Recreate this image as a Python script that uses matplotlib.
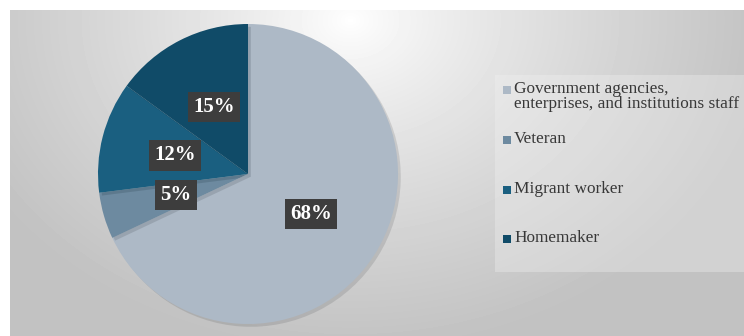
import matplotlib.pyplot as plt
import matplotlib.patheffects as pe
from matplotlib.patches import Rectangle
import numpy as np

labels = ['Government agencies,\nenterprises, and institutions staff', 'Veteran',
          'Migrant worker', 'Homemaker']
values = [68, 5, 12, 15]
colors = ['#adb9c6', '#6d8aa0', '#1a5f80', '#104b68']
# legend row positions (pixels from top)
legend_rows = [90, 140, 190, 239]

plt.rcParams['font.family'] = ['Liberation Serif', 'DejaVu Serif']

W, H = 744, 336
fig = plt.figure(figsize=(W / 100, H / 100), dpi=100)

# background with soft radial gradient
bg = fig.add_axes([10/W, 0, 1 - 10/W, 1 - 10/H])
yy, xx = np.mgrid[0:326, 0:734]
d = np.sqrt(((xx - 340) / 420.0) ** 2 + ((yy - 10) / 330.0) ** 2)
shade = 1.0 - 0.24 * np.clip(d, 0, 1) ** 0.8
bg.imshow(shade, cmap='gray', vmin=0, vmax=1, aspect='auto', interpolation='bilinear')
bg.axis('off')

ax = fig.add_axes([98/W, 12/H, 300/W, 300/H])
wedges, texts, autotexts = ax.pie(values, colors=colors, startangle=90, counterclock=False,
                                  autopct='%d%%', pctdistance=0.5,
                                  wedgeprops=dict(linewidth=0))
for w in wedges:
    w.set_path_effects([pe.SimplePatchShadow(offset=(2, -2), alpha=0.15), pe.Normal()])
for t in autotexts:
    t.set_color('white')
    t.set_fontsize(15)
    t.set_fontweight('bold')
    t.set_bbox(dict(boxstyle='square,pad=0.25', facecolor='#3d3d3d', edgecolor='none'))
ax.set_xlim(-1, 1)
ax.set_ylim(-1, 1)

# legend drawn by hand to keep the uneven row spacing
fig.patches.append(Rectangle((495/W, 1 - 272/H), (W - 495)/W, (272 - 75)/H,
                             transform=fig.transFigure, facecolor='#f2f2f2',
                             edgecolor='none', alpha=0.35, zorder=1))
for lab, c, y in zip(labels, colors, legend_rows):
    fig.patches.append(Rectangle((503/W, 1 - (y + 4)/H), 8/W, 8/H,
                                 transform=fig.transFigure, facecolor=c,
                                 edgecolor='none', zorder=2))
    fig.text(514/W, 1 - (y - 9)/H, lab, fontsize=12.4, color='#383838',
             va='top', ha='left', linespacing=0.95, zorder=3)

plt.savefig('out.png', dpi=100)
